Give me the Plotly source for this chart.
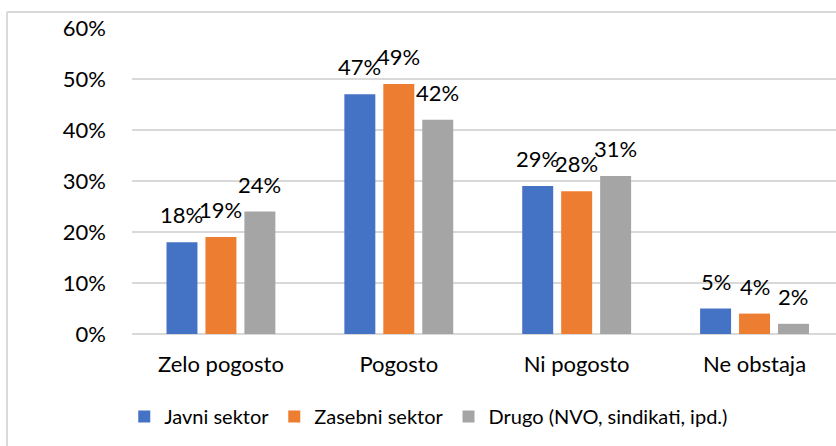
import plotly.graph_objects as go

categories = ["Zelo pogosto", "Pogosto", "Ni pogosto", "Ne obstaja"]
series_names = ["Javni sektor", "Zasebni sektor", "Drugo (NVO, sindikati, ipd.)"]
javni = [0.18, 0.47, 0.29, 0.05]
zasebni = [0.19, 0.49, 0.28, 0.04]
drugo = [0.24, 0.42, 0.31, 0.02]
colors = ["#4472C4", "#ED7D31", "#A5A5A5"]
y_ticks = [0, 0.1, 0.2, 0.3, 0.4, 0.5, 0.6]

FONT = "Lato"
series = [javni, zasebni, drugo]

fig = go.Figure()
for name, vals, col in zip(series_names, series, colors):
    fig.add_trace(go.Bar(x=categories, y=vals, name=name, marker=dict(color=col, line=dict(width=0))))

bargap = 0.343
slot = (1 - bargap) / 3
annotations = []
for k, vals in enumerate(series):
    for i, v in enumerate(vals):
        annotations.append(dict(
            x=i + (k - 1) * slot, y=v, xref="x", yref="y",
            text=f"{round(v*100)}%", showarrow=False,
            yanchor="bottom", xanchor="center", yshift=12,
            font=dict(family=FONT, size=22, color="#000000"),
        ))

fig.update_layout(
    width=836, height=446,
    margin=dict(l=132, r=0, t=28, b=112),
    paper_bgcolor="white", plot_bgcolor="white",
    barmode="group", bargap=bargap, bargroupgap=0.205,
    font=dict(family=FONT, size=22, color="#000000"),
    showlegend=True,
    legend=dict(orientation="h", x=-0.011, xanchor="left", y=-0.27, yanchor="middle",
                font=dict(family=FONT, size=20, color="#000000"), itemwidth=30,
                traceorder="normal"),
    annotations=annotations,
    shapes=[
        dict(type="line", xref="paper", yref="paper", x0=-0.1776, x1=1.05, y0=1.052, y1=1.052,
             line=dict(color="#D9D9D9", width=2), layer="above"),
        dict(type="line", xref="paper", yref="paper", x0=-0.1776, x1=-0.1776, y0=-0.6, y1=1.052,
             line=dict(color="#D9D9D9", width=2), layer="above"),
    ],
)
fig.update_xaxes(type="category", range=[-0.5, 3.458], showgrid=False, showline=False,
                 ticks="", ticklabelstandoff=15, tickfont=dict(family=FONT, size=22))
fig.update_yaxes(range=[0, 0.6], tickvals=y_ticks, tickformat=".0%", showgrid=True,
                 gridcolor="#D9D9D9", gridwidth=1.5, zeroline=True, zerolinecolor="#D9D9D9",
                 zerolinewidth=1.5, showline=False, ticks="", ticklabelstandoff=25,
                 tickfont=dict(family=FONT, size=22))

fig.write_html("out.html", config={"displayModeBar": False},
               post_script="document.body.style.margin='0px';")
